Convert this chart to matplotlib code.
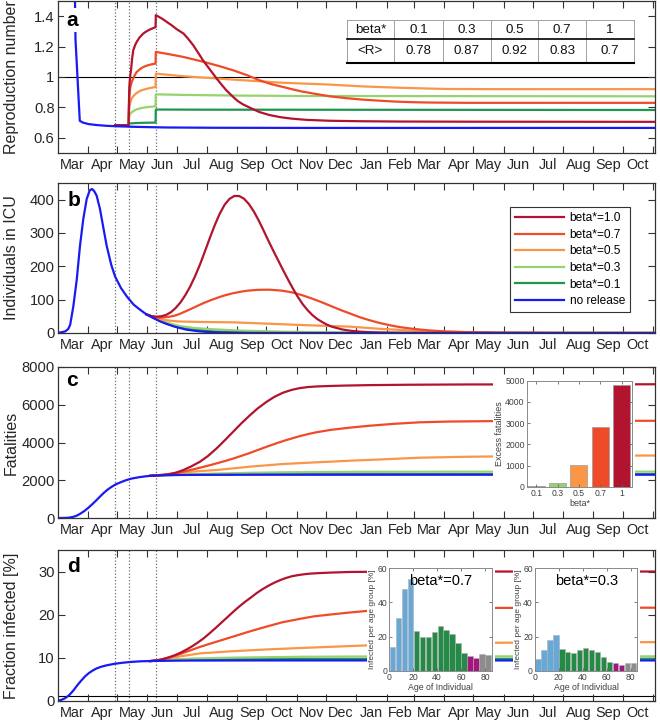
import numpy as np
import pandas as pd
import matplotlib
matplotlib.use('Agg')
import matplotlib.pyplot as plt
from matplotlib.patches import Rectangle
from matplotlib.lines import Line2D

plt.rcParams['font.family'] = ['Liberation Sans', 'DejaVu Sans']

# ---------------- data (x = days since 1 Mar 2020) ----------------
MONTHS = ['Mar', 'Apr', 'May', 'Jun', 'Jul', 'Aug', 'Sep', 'Oct', 'Nov', 'Dec',
          'Jan', 'Feb', 'Mar', 'Apr', 'May', 'Jun', 'Jul', 'Aug', 'Sep', 'Oct']
RELEASE_DAYS = [59, 73, 101]

SERIES = ['beta*=1.0', 'beta*=0.7', 'beta*=0.5', 'beta*=0.3', 'beta*=0.1', 'no release']
COLORS = ['#B2142F', '#F04B28', '#FA9646', '#96D26E', '#1E9650', '#1A1AF5']

# panel a: reproduction number
R_BLUE_D = [17.5, 18.4, 22.8, 26, 32, 40, 50, 60, 80, 110, 160, 250, 612]
R_BLUE = [1.7, 1.25, 0.712, 0.700, 0.690, 0.684, 0.679, 0.676, 0.672, 0.668, 0.666, 0.665, 0.665]
R_10_D = [59, 72.8, 73.1, 73.5, 74.3, 75.3, 76.4, 77.6, 79.5, 81.1, 84, 87.9, 91, 94.7, 97.5, 100.4,
          100.7, 104, 108, 112, 117, 122, 129, 134, 139, 144, 149, 156, 163, 168, 173, 180, 185,
          190, 198, 207, 217, 228, 240, 255, 279, 310, 350, 420, 612]
R_10 = [0.683, 0.683, 0.80, 0.93, 1.00, 1.044, 1.12, 1.176, 1.21, 1.231, 1.26, 1.286, 1.30, 1.313,
        1.32, 1.328, 1.407, 1.395, 1.38, 1.362, 1.34, 1.315, 1.286, 1.25, 1.209, 1.16, 1.11, 1.05,
        0.99, 0.95, 0.912, 0.868, 0.84, 0.82, 0.795, 0.769, 0.75, 0.736, 0.726, 0.718, 0.712, 0.709,
        0.707, 0.706, 0.705]
R_07_D = [59, 72.8, 73.1, 73.6, 74.5, 76, 78.5, 81.1, 84.5, 87.9, 92, 96, 100.4, 100.7, 110, 129,
          150, 165, 180, 195, 207, 218, 228, 240, 250, 265, 280, 297, 313, 330, 347, 365, 381, 420, 612]
R_07 = [0.683, 0.683, 0.80, 0.88, 0.93, 0.967, 1.005, 1.033, 1.052, 1.066, 1.076, 1.083, 1.088, 1.165,
        1.155, 1.132, 1.099, 1.073, 1.044, 1.01, 0.978, 0.955, 0.939, 0.92, 0.905, 0.888, 0.872, 0.86,
        0.851, 0.844, 0.838, 0.834, 0.832, 0.830, 0.830]
R_05_D = [59, 72.8, 73.1, 73.6, 74.5, 76, 78.5, 81.1, 85, 90, 95, 100.4, 100.7, 129, 180, 228, 279,
          313, 347, 380, 400, 450, 612]
R_05 = [0.683, 0.683, 0.76, 0.80, 0.83, 0.86, 0.88, 0.895, 0.91, 0.92, 0.928, 0.934, 1.022, 1.005,
        0.983, 0.963, 0.95, 0.938, 0.930, 0.924, 0.921, 0.92, 0.92]
R_03_D = [59, 72.8, 73.1, 73.6, 75, 77.5, 81, 86, 92, 100.4, 100.7, 130, 180, 250, 612]
R_03 = [0.683, 0.683, 0.72, 0.745, 0.762, 0.775, 0.787, 0.796, 0.802, 0.807, 0.886, 0.882, 0.878,
        0.875, 0.873]
R_01_D = [59, 72.8, 73.1, 80, 90, 100.4, 100.7, 150, 612]
R_01 = [0.683, 0.683, 0.694, 0.697, 0.699, 0.700, 0.786, 0.785, 0.783]

TABLE_BETA = ['beta*', '0.1', '0.3', '0.5', '0.7', '1']
TABLE_R = ['<R>', '0.78', '0.87', '0.92', '0.83', '0.7']

# panel b: individuals in ICU
ICU_BLUE_D = [0.5, 4, 8, 11, 13, 16.2, 19.7, 23, 26.4, 29.9, 33, 35.3, 37.5, 40.1, 43.5, 47, 50.4,
              55, 58.9, 65, 70.9, 78, 84.5, 91, 98, 105, 112, 120, 132, 145, 156, 170, 200, 250, 612]
ICU_BLUE = [1, 2, 5, 12, 25, 80, 160, 261, 342, 402, 428, 432, 426, 412, 372, 315, 261, 205, 170,
            135, 110, 85, 70, 56, 45, 35, 27, 19, 10, 5, 2.5, 1, 0.3, 0, 0]
ICU_10_D = [91, 96, 101, 106, 111, 116, 121, 126, 131, 136, 141, 146, 151, 156, 161, 166, 171, 176,
            181, 186, 191, 196, 201, 206, 211, 216, 221, 226, 231, 236, 241, 246, 251, 256, 261, 266,
            271, 276, 281, 286, 291, 296, 301, 311, 321, 331, 345, 360, 380, 420, 612]
ICU_10 = [56, 51, 49, 50, 54, 62, 75, 92, 114, 140, 171, 206, 245, 285, 323, 357, 384, 402, 411, 411,
          403, 387, 365, 338, 308, 277, 247, 218, 189, 161, 134, 109, 87, 69, 54, 42, 33, 25, 19, 15,
          11, 8.5, 6.5, 3.8, 2.2, 1.3, 0.6, 0.3, 0.1, 0, 0]
ICU_07_D = [91, 98, 104, 110, 115, 120, 125, 130, 135, 142, 149, 157, 165, 172, 180, 188, 195, 205,
            217, 230, 240, 250, 260, 270, 280, 290, 300, 310, 320, 330, 340, 350, 364, 380, 398, 420,
            450, 500, 612]
ICU_07 = [56, 49, 46, 47, 49, 52, 57, 63.5, 70, 79.5, 89, 98.5, 107, 113.5, 119.5, 124, 127, 129.5,
          130, 127, 122, 114, 104, 93, 81, 69, 58, 47, 38, 30, 23.5, 18, 12.5, 8, 4.5, 2.5, 1, 0.3, 0]
ICU_05_D = [91, 98, 104, 110, 118, 125, 150, 180, 215, 250, 279, 300, 330, 360, 381, 420, 450, 500, 612]
ICU_05 = [56, 48, 43, 39, 36, 34.5, 33, 32, 28, 24, 21, 19, 12.5, 8, 5, 2.5, 1, 0.3, 0]
ICU_03_D = [91, 98, 104, 110, 118, 125, 140, 160, 190, 230, 280, 330, 400, 612]
ICU_03 = [56, 47, 40, 33, 26, 21, 15, 11, 7, 4, 2, 0.8, 0.2, 0]
ICU_01_D = [91, 98, 104, 110, 118, 125, 140, 160, 190, 230, 280, 612]
ICU_01 = [56, 46, 38, 30, 22, 17, 10, 5, 2, 0.8, 0.2, 0]

# panel c: fatalities
F_BLUE_D = [0.5, 8, 12, 16, 20, 24, 28, 32, 36, 40, 44, 48, 52, 56, 60, 65, 70, 76, 84, 92, 101.6,
            120, 150, 200, 612]
F_BLUE = [0, 5, 20, 60, 130, 250, 390, 560, 750, 950, 1160, 1360, 1530, 1670, 1790, 1900, 2000,
          2090, 2165, 2220, 2255, 2278, 2288, 2294, 2296]
F_10_D = [95, 101.6, 108, 115, 122, 129, 137, 146, 154, 163, 171, 180, 188, 197, 205, 214, 222, 231,
          240, 248, 256, 265, 279, 293, 320, 360, 420, 612]
F_10 = [2235, 2258, 2275, 2320, 2415, 2543, 2735, 2984, 3280, 3690, 4100, 4574, 5000, 5440, 5805,
        6150, 6415, 6640, 6790, 6880, 6935, 6968, 6995, 7015, 7040, 7060, 7075, 7085]
F_07_D = [95, 101.6, 110, 120, 129, 140, 150, 163, 172, 180, 189, 197, 205, 214, 223, 231, 240, 248,
          257, 265, 280, 300, 320, 345, 371, 400, 450, 520, 612]
F_07 = [2235, 2258, 2300, 2370, 2455, 2590, 2715, 2895, 3025, 3150, 3305, 3445, 3600, 3770, 3935,
        4075, 4215, 4335, 4450, 4540, 4670, 4790, 4890, 4990, 5070, 5110, 5135, 5145, 5150]
F_05_D = [95, 101.6, 115, 129, 146, 163, 180, 197, 214, 231, 248, 265, 282, 300, 330, 371, 420, 480,
          540, 612]
F_05 = [2235, 2258, 2340, 2420, 2485, 2543, 2630, 2720, 2790, 2861, 2905, 2950, 2990, 3037, 3100,
        3195, 3245, 3280, 3300, 3310]
F_03_D = [95, 101.6, 130, 160, 197, 240, 300, 400, 612]
F_03 = [2235, 2258, 2310, 2350, 2395, 2425, 2445, 2452, 2455]
F_01_D = [95, 101.6, 130, 160, 197, 240, 300, 400, 612]
F_01 = [2235, 2258, 2290, 2305, 2312, 2316, 2318, 2319, 2320]

EXCESS_BETA = ['0.1', '0.3', '0.5', '0.7', '1']
EXCESS = [24, 157, 1020, 2830, 4795]

# panel d: fraction infected [%]
I_BLUE_D = [0.5, 4, 8, 12, 16, 20, 24, 28, 32, 36, 40, 45, 50, 58, 66, 75, 85, 101, 130, 200, 612]
I_BLUE = [0, 0.2, 0.6, 1.3, 2.3, 3.5, 4.6, 5.6, 6.4, 7.0, 7.5, 7.9, 8.2, 8.55, 8.8, 9.0, 9.15, 9.25,
          9.32, 9.35, 9.35]
I_10_D = [95, 101.6, 108, 114, 120, 126, 132, 138, 144, 150, 156, 162, 168, 174, 180, 186, 192, 198,
          204, 210, 216, 222, 228, 234, 240, 246, 252, 258, 265, 279, 300, 340, 400, 612]
I_10 = [9.2, 9.35, 9.65, 10.05, 10.55, 11.15, 11.85, 12.65, 13.55, 14.55, 15.7, 16.9, 18.15, 19.4,
        20.65, 21.85, 22.95, 23.95, 25.0, 25.9, 26.7, 27.4, 28.0, 28.5, 28.9, 29.15, 29.35, 29.5,
        29.6, 29.75, 29.9, 29.97, 30.0, 30.0]
I_07_D = [95, 105, 115, 125, 135, 146, 160, 180, 197, 214, 230, 248, 263, 279, 300, 317, 350, 400,
          450, 612]
I_07 = [9.2, 9.5, 10.1, 10.8, 11.6, 12.5, 13.5, 14.9, 16.1, 17.2, 18.2, 19.0, 19.6, 20.0, 20.5,
        20.85, 21.2, 21.45, 21.55, 21.6]
I_05_D = [95, 105, 120, 146, 180, 214, 250, 279, 317, 360, 420, 500, 612]
I_05 = [9.2, 9.5, 10.1, 11.0, 11.5, 11.9, 12.25, 12.5, 12.85, 13.15, 13.4, 13.55, 13.6]
I_03_D = [95, 110, 140, 180, 250, 350, 612]
I_03 = [9.2, 9.5, 9.8, 10.0, 10.2, 10.3, 10.3]
I_01_D = [95, 110, 140, 200, 612]
I_01 = [9.2, 9.4, 9.6, 9.7, 9.75]

AGE_CENTERS = [2.5, 7.5, 12.5, 17.5, 22.5, 27.5, 32.5, 37.5, 42.5, 47.5, 52.5, 57.5, 62.5, 67.5,
               72.5, 77.5, 82.5]
AGE_GROUP = ['y'] * 4 + ['a'] * 9 + ['o'] * 2 + ['e'] * 2
INF_07 = [13.7, 30.9, 47.9, 53.5, 23.5, 19.5, 19.5, 22.7, 26.2, 23.8, 21.7, 16.2, 10.2, 8.6, 7.6,
          9.6, 9.0]
INF_03 = [6.8, 12.1, 18.0, 20.9, 12.5, 10.7, 10.2, 12.1, 13.5, 12.1, 10.7, 7.8, 4.9, 4.3, 3.5,
          4.3, 4.3]
GROUP_COLORS = {'y': '#66A8D8', 'a': '#238B45', 'o': '#A3157F', 'e': '#8C8C8C'}

# ---------------- figure ----------------
W, H = 660, 724
fig = plt.figure(figsize=(W / 100, H / 100), dpi=100)


def fax(x0, y0, x1, y1):
    return fig.add_axes([x0 / W, 1 - y1 / H, (x1 - x0) / W, (y1 - y0) / H])


origin = pd.Timestamp('2020-03-01')
starts = pd.date_range('2020-03-01', '2021-11-01', freq='MS')
start_days = np.asarray((starts - origin).days, dtype=float)
major = start_days[1:]
mids = (start_days[:-1] + start_days[1:]) / 2

SPINE = '#333333'


def style(ax, ylim, yticks, yticklabels, ylabel):
    ax.set_xlim(0.5, 612)
    ax.set_ylim(*ylim)
    ax.set_xticks(major)
    ax.set_xticklabels([])
    ax.set_xticks(mids, minor=True)
    ax.set_xticklabels(MONTHS, minor=True)
    ax.tick_params(axis='x', which='minor', length=0, pad=3.5, labelsize=10.4, colors='#262626')
    ax.tick_params(axis='both', which='major', direction='in', length=5, width=0.8,
                   top=True, right=True, color=SPINE, labelcolor='#262626', labelsize=10.6, pad=2.5)
    ax.set_yticks(yticks)
    ax.set_yticklabels(yticklabels)
    for s in ax.spines.values():
        s.set_color(SPINE)
        s.set_linewidth(0.9)
    ax.set_ylabel(ylabel, fontsize=11.5, color='#262626')
    ax.yaxis.set_label_coords(-0.066, 0.5)
    for d in RELEASE_DAYS:
        ax.axvline(d, color='#707070', ls=(0, (1, 1.6)), lw=0.9, zorder=1)


LW = 1.6
order = [4, 3, 2, 1, 0]  # draw 0.1 first, 1.0 last

# panel a
axa = fax(58, 1, 655, 153)
style(axa, (0.5, 1.5), [0.6, 0.8, 1.0, 1.2, 1.4], ['0.6', '0.8', '1', '1.2', '1.4'],
      'Reproduction number')
axa.axhline(1, color='black', lw=0.8, zorder=1.5)
ra = [(R_10_D, R_10), (R_07_D, R_07), (R_05_D, R_05), (R_03_D, R_03), (R_01_D, R_01)]
for i in order:
    axa.plot(ra[i][0], ra[i][1], color=COLORS[i], lw=LW, zorder=2)
axa.plot(R_BLUE_D, R_BLUE, color=COLORS[5], lw=LW, zorder=2, clip_on=True)

# panel b
axb = fax(58, 183, 655, 333)
style(axb, (0, 450), [0, 100, 200, 300, 400], ['0', '100', '200', '300', '400'],
      'Individuals in ICU')
rb = [(ICU_10_D, ICU_10), (ICU_07_D, ICU_07), (ICU_05_D, ICU_05), (ICU_03_D, ICU_03),
      (ICU_01_D, ICU_01)]
for i in order:
    axb.plot(rb[i][0], rb[i][1], color=COLORS[i], lw=LW, zorder=2)
axb.plot(ICU_BLUE_D, ICU_BLUE, color=COLORS[5], lw=LW, zorder=2)
handles = [Line2D([], [], color=c, lw=LW) for c in COLORS]
leg = axb.legend(handles, SERIES, loc='upper left', bbox_to_anchor=(510 / W, 1 - 207 / H),
                 bbox_transform=fig.transFigure, borderaxespad=0, fontsize=8.6,
                 handlelength=4.1, handletextpad=0.45, labelspacing=0.38, borderpad=0.45,
                 fancybox=False, framealpha=1)
leg.get_frame().set_edgecolor('#333333')
leg.get_frame().set_linewidth(0.8)

# panel c
axc = fax(58, 367, 655, 518)
style(axc, (0, 8000), [0, 2000, 4000, 6000, 8000], ['0', '2000', '4000', '6000', '8000'],
      'Fatalities')
rc = [(F_10_D, F_10), (F_07_D, F_07), (F_05_D, F_05), (F_03_D, F_03), (F_01_D, F_01)]
for i in order:
    axc.plot(rc[i][0], rc[i][1], color=COLORS[i], lw=LW, zorder=2)
axc.plot(F_BLUE_D, F_BLUE, color=COLORS[5], lw=LW, zorder=2)

# panel d
axd = fax(58, 550, 655, 700.7)
style(axd, (0, 35), [0, 10, 20, 30], ['0', '10', '20', '30'], 'Fraction infected [%]')
axd.axhline(1, color='black', lw=0.8, zorder=1.5)
rd = [(I_10_D, I_10), (I_07_D, I_07), (I_05_D, I_05), (I_03_D, I_03), (I_01_D, I_01)]
for i in order:
    axd.plot(rd[i][0], rd[i][1], color=COLORS[i], lw=LW, zorder=2)
axd.plot(I_BLUE_D, I_BLUE, color=COLORS[5], lw=LW, zorder=2)

# white backgrounds behind insets
for (x0, y0, x1, y1) in [(493, 376, 635, 509), (367, 560, 495, 692), (513, 560, 640, 692)]:
    fig.add_artist(Rectangle((x0 / W, 1 - y1 / H), (x1 - x0) / W, (y1 - y0) / H,
                             transform=fig.transFigure, facecolor='white', edgecolor='none',
                             zorder=0.5))


def inset_style(ax):
    ax.set_zorder(1)
    for s in ax.spines.values():
        s.set_color('#8a8a8a')
        s.set_linewidth(0.7)
    ax.tick_params(direction='in', length=2.5, width=0.6, top=True, right=True, color='#666666',
                   labelsize=6.2, labelcolor='#404040', pad=1.5)


# inset c
axci = fax(526.7, 380.7, 632.3, 486.7)
inset_style(axci)
xs = np.arange(1, len(EXCESS) + 1)
axci.bar(xs, EXCESS, width=0.8, color=COLORS[4::-1], edgecolor='#9a9a9a', linewidth=0.5)
axci.set_xlim(0.55, 5.5)
axci.set_ylim(0, 5000)
axci.set_xticks(xs)
axci.set_xticklabels(EXCESS_BETA)
axci.set_yticks([0, 1000, 2000, 3000, 4000, 5000])
axci.set_xlabel('beta*', fontsize=6.5, color='#404040', labelpad=1)
axci.set_ylabel('Excess fatalities', fontsize=6.5, color='#404040', labelpad=1)

# insets d
for (x0, x1, vals, title) in [(389.3, 491.7, INF_07, 'beta*=0.7'), (535, 637.3, INF_03, 'beta*=0.3')]:
    ax = fax(x0, 568.3, x1, 670.7)
    inset_style(ax)
    ax.bar(AGE_CENTERS, vals, width=4.4, color=[GROUP_COLORS[g] for g in AGE_GROUP],
           edgecolor='#b0b0b0', linewidth=0.4)
    ax.set_xlim(0, 85.6)
    ax.set_ylim(0, 60)
    ax.set_xticks([0, 20, 40, 60, 80])
    ax.set_yticks([0, 20, 40, 60])
    ax.set_xlabel('Age of Individual', fontsize=6.3, color='#404040', labelpad=1)
    ax.set_ylabel('Infected per age group [%]', fontsize=6.0, color='#404040', labelpad=1)
    ax.text(0.5, 0.88, title, transform=ax.transAxes, ha='center', va='center', fontsize=10.5,
            color='black')

# table in panel a
cols = [346.7, 394.3, 442.7, 490.7, 538.3, 586, 634]
rows = [20, 39.3, 62.7]


def fl(xs_, ys_, **kw):
    fig.add_artist(Line2D([x / W for x in xs_], [1 - y / H for y in ys_],
                          transform=fig.transFigure, zorder=3, **kw))


fl([cols[0], cols[-1]], [rows[0], rows[0]], color='#a0a0a0', lw=0.7)
for cx in cols:
    fl([cx, cx], [rows[0], rows[2]], color='#a0a0a0', lw=0.7)
fl([cols[0], cols[-1]], [rows[1], rows[1]], color='black', lw=1.2)
fl([cols[0], cols[-1]], [rows[2], rows[2]], color='black', lw=1.5)
for j in range(len(TABLE_BETA)):
    cx = (cols[j] + cols[j + 1]) / 2
    fig.text(cx / W, 1 - (rows[0] + rows[1]) / 2 / H, TABLE_BETA[j], ha='center', va='center',
             fontsize=9.6, color='#111111')
    fig.text(cx / W, 1 - (rows[1] + rows[2]) / 2 / H, TABLE_R[j], ha='center', va='center',
             fontsize=9.6, color='#111111')

# panel letters
for lab, (px, py) in zip('abcd', [(72, 20), (74, 201), (72, 380), (73, 566)]):
    fig.text(px / W, 1 - py / H, lab, ha='center', va='center', fontsize=15, fontweight='bold',
             color='black', zorder=4,
             bbox=dict(facecolor='white', edgecolor='none', pad=1.5) if lab == 'a' else None)

fig.savefig('out.png', dpi=100)
